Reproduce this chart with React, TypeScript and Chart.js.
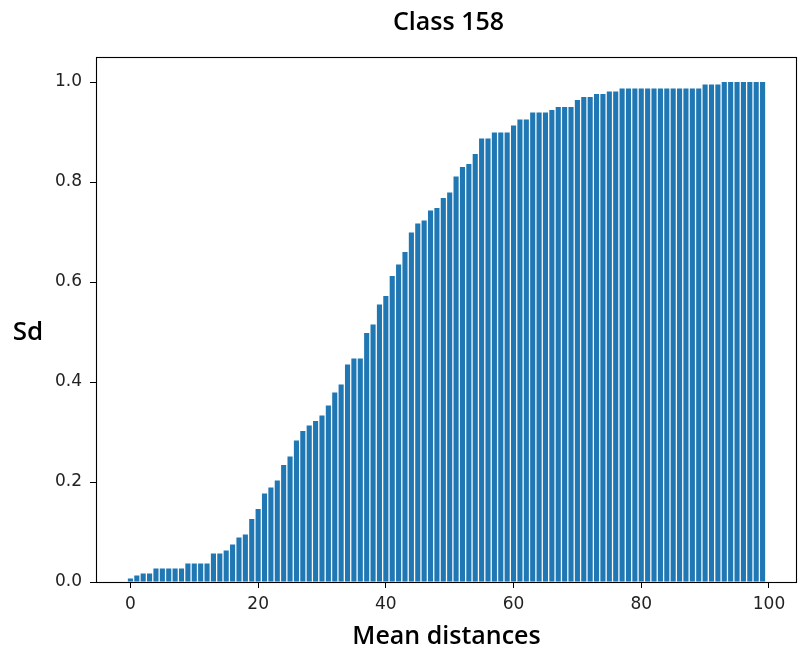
import React, { useEffect, useRef } from "react";
import { Chart, registerables } from "chart.js";

Chart.register(...registerables);

const TITLE = "Class 158";
const X_LABEL = "Mean distances";
const Y_LABEL = "Sd";

const categories: number[] = Array.from({ length: 100 }, (_, i) => i);

const values: number[] = [
  0.007, 0.013, 0.017, 0.017, 0.027, 0.027, 0.027, 0.027, 0.027, 0.037,
  0.037, 0.037, 0.037, 0.057, 0.057, 0.063, 0.075, 0.089, 0.095, 0.126,
  0.146, 0.177, 0.189, 0.203, 0.234, 0.251, 0.283, 0.302, 0.313, 0.322,
  0.333, 0.353, 0.379, 0.395, 0.435, 0.447, 0.447, 0.498, 0.515, 0.555,
  0.572, 0.612, 0.635, 0.66, 0.699, 0.717, 0.723, 0.743, 0.748, 0.768,
  0.779, 0.811, 0.83, 0.836, 0.856, 0.887, 0.887, 0.899, 0.899, 0.899,
  0.913, 0.925, 0.925, 0.939, 0.939, 0.939, 0.944, 0.95, 0.95, 0.95,
  0.964, 0.97, 0.97, 0.976, 0.976, 0.981, 0.981, 0.987, 0.987, 0.987,
  0.987, 0.987, 0.987, 0.987, 0.987, 0.987, 0.987, 0.987, 0.987, 0.987,
  0.995, 0.995, 0.995, 1.0, 1.0, 1.0, 1.0, 1.0, 1.0, 1.0,
];

const xTicks: number[] = [0, 20, 40, 60, 80, 100];
const yTicks: number[] = [0, 0.2, 0.4, 0.6, 0.8, 1.0];

const X_MIN = -5.39;
const X_MAX = 104.39;
const Y_MAX = 1.05;

const BAR_COLOR = "#1f77b4";
const TICK_FONT = { family: "DejaVu Sans", size: 17 };
const LABEL_FONT_FAMILY = "'Open Sans'";

const framePlugin = {
  id: "frameAndLabels",
  afterDatasetsDraw(chart: any) {
    const { ctx, chartArea } = chart;
    ctx.save();
    ctx.strokeStyle = "#000";
    ctx.lineWidth = 1.1;
    ctx.strokeRect(
      Math.round(chartArea.left) + 0.5,
      Math.round(chartArea.top) + 0.5,
      Math.round(chartArea.right - chartArea.left) - 1,
      Math.round(chartArea.bottom - chartArea.top)
    );
    // y tick marks, placed by the y scale
    const yScale = chart.scales.y;
    ctx.beginPath();
    yTicks.forEach((v) => {
      const py = Math.round(yScale.getPixelForValue(v)) + 0.5;
      ctx.moveTo(Math.round(chartArea.left) + 0.5, py);
      ctx.lineTo(Math.round(chartArea.left) - 5.5, py);
    });
    ctx.stroke();
    ctx.restore();
  },
  afterDraw(chart: any) {
    const { ctx, chartArea } = chart;
    const cx = (chartArea.left + chartArea.right) / 2;
    ctx.save();
    ctx.fillStyle = "#000";
    ctx.textAlign = "center";
    ctx.textBaseline = "alphabetic";
    ctx.font = `600 25px ${LABEL_FONT_FAMILY}`;
    ctx.fillText(TITLE, cx + 2, 30);
    ctx.font = `600 25px ${LABEL_FONT_FAMILY}`;
    ctx.fillText(X_LABEL, cx, 644);
    ctx.font = `600 26px ${LABEL_FONT_FAMILY}`;
    ctx.fillText(Y_LABEL, 28, 340);
    ctx.restore();
  },
};

export default function App() {
  const canvasRef = useRef<HTMLCanvasElement | null>(null);

  useEffect(() => {
    document.body.style.margin = "0";
    const canvas = canvasRef.current;
    if (!canvas) return;
    const gridOpts = {
      display: true,
      drawOnChartArea: false,
      drawTicks: true,
      offset: false,
      tickLength: 6,
      color: "#000",
      tickColor: "#000",
      lineWidth: 1,
    };
    const chart = new Chart(canvas, {
      type: "bar",
      data: {
        datasets: [
          {
            data: categories.map((c, i) => ({ x: c, y: values[i] })),
            backgroundColor: BAR_COLOR,
            borderWidth: 0,
            barPercentage: 0.8,
            categoryPercentage: 1.0,
          },
        ],
      },
      options: {
        responsive: false,
        animation: false,
        devicePixelRatio: 1,
        layout: { padding: { top: 57, right: 1, left: 0, bottom: 0 } },
        plugins: {
          legend: { display: false },
          title: { display: false },
          tooltip: { enabled: false },
        },
        scales: {
          x: {
            type: "linear",
            min: X_MIN,
            max: X_MAX,
            offset: false,
            border: { display: false },
            grid: gridOpts,
            ticks: {
              font: TICK_FONT,
              color: "#222",
              padding: 6,
              maxRotation: 0,
              autoSkip: false,
              callback: (v: any) => String(v),
            },
            afterBuildTicks: (scale: any) => {
              scale.ticks = xTicks.map((v) => ({ value: v }));
            },
            afterFit: (scale: any) => {
              scale.height = 69;
            },
          },
          y: {
            type: "linear",
            min: 0,
            max: Y_MAX,
            border: { display: false },
            grid: gridOpts,
            ticks: {
              font: TICK_FONT,
              color: "#222",
              padding: 8,
              autoSkip: false,
              callback: (v: any) => Number(v).toFixed(1),
            },
            afterBuildTicks: (scale: any) => {
              scale.ticks = yTicks.map((v) => ({ value: v }));
            },
            afterFit: (scale: any) => {
              scale.width = 96;
            },
          },
        },
      },
      plugins: [framePlugin],
    });
    return () => chart.destroy();
  }, []);

  return (
    <div style={{ width: 798, height: 651, position: "relative", background: "#fff" }}>
      <canvas ref={canvasRef} width={798} height={651} style={{ display: "block" }} />
    </div>
  );
}
